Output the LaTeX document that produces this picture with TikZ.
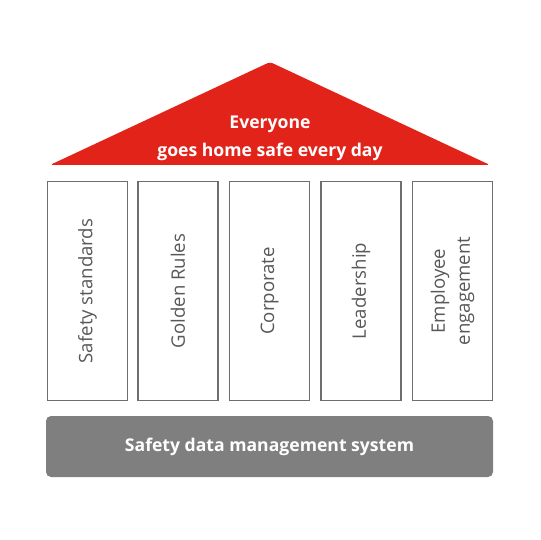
\documentclass[tikz,border=0pt]{standalone}
\usepackage{fontspec}
\setmainfont{Open Sans}
\definecolor{roofred}{HTML}{E2231A}
\definecolor{basegray}{HTML}{7F7F80}
\definecolor{pillartext}{HTML}{58585A}
\definecolor{pillarline}{HTML}{6E6E70}
\begin{document}
\begin{tikzpicture}[x=1pt,y=-1pt,
  pillar/.style={draw=pillarline,line width=1.1pt,minimum width=80pt,minimum height=219pt,inner sep=0pt},
  plabel/.style={rotate=90,text=pillartext,font=\fontsize{18.6}{25}\selectfont,align=center},
  whitetext/.style={text=white,font=\bfseries\fontsize{17.6}{28}\selectfont,align=center}]
\useasboundingbox (0,0) rectangle (540,540);
\fill[roofred,rounded corners=3pt] (50,165) -- (270,62) -- (490,165) -- cycle;
\node[whitetext] (roof) at (270,138) {Everyone\\goes home safe every day};
\foreach \i/\x/\t in {1/87.5/Safety standards,2/178/Golden Rules,3/269.5/Corporate,4/361/Leadership,5/452.5/{Employee\\engagement}}{
  \node[pillar] (p\i) at (\x,291) {};
  \node[plabel] (l\i) at (p\i) {\t};
}
\node[fill=basegray,rounded corners=5pt,minimum width=447pt,minimum height=61pt,inner sep=0pt,
  text=white,font=\bfseries\fontsize{17.6}{22}\selectfont] (base) at (269.5,446.5) {Safety data management system};
\end{tikzpicture}
\end{document}
